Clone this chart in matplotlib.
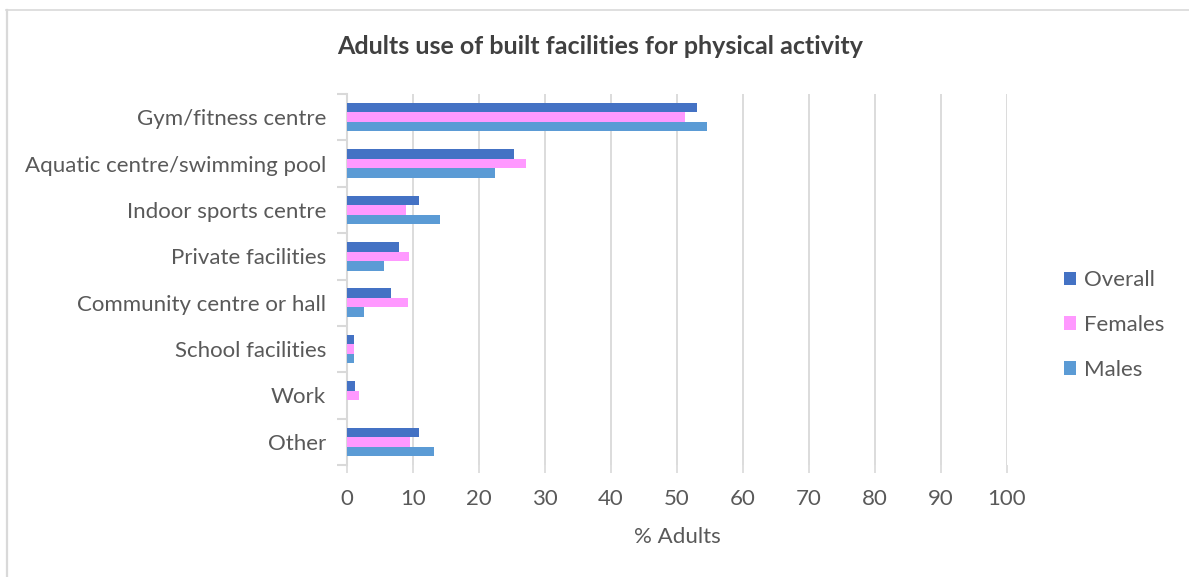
import numpy as np
import matplotlib.pyplot as plt
from matplotlib.lines import Line2D

categories = ["Gym/fitness centre", "Aquatic centre/swimming pool", "Indoor sports centre",
              "Private facilities", "Community centre or hall", "School facilities", "Work", "Other"]
overall = [53.0, 25.3, 10.9, 7.9, 6.7, 1.1, 1.2, 10.9]
females = [51.2, 27.1, 8.9, 9.4, 9.2, 1.1, 1.8, 9.5]
males = [54.5, 22.4, 14.1, 5.6, 2.6, 1.1, 0.0, 13.2]
series_names = ["Overall", "Females", "Males"]
colors = ["#4472C4", "#FF99FF", "#5B9BD5"]

plt.rcParams['font.family'] = ['Lato', 'DejaVu Sans']
text_col = "#595959"
grid_col = "#D9D9D9"

fig = plt.figure(figsize=(11.89, 5.77), dpi=100)
ax = fig.add_axes([347 / 1189, 1 - 465 / 577, 660 / 1189, 371 / 577])

# outer chart border (top and left visible)
fig.add_artist(Line2D([6 / 1189, 1], [1 - 9.5 / 577] * 2, color=grid_col, lw=1.2, transform=fig.transFigure))
fig.add_artist(Line2D([6.5 / 1189] * 2, [0, 1 - 9.5 / 577], color=grid_col, lw=1.6, transform=fig.transFigure))

y = np.arange(len(categories))
h = 0.205
for i, (vals, name, c) in enumerate(zip([overall, females, males], series_names, colors)):
    ax.barh(y + (i - 1) * h, vals, height=h, color=c, label=name, zorder=3)

ax.set_xlim(0, 100)
ax.set_ylim(len(categories) - 0.5, -0.5)
ax.set_xticks(range(0, 101, 10))
ax.set_yticks(y)
ax.set_yticklabels(categories)
ax.set_yticks(np.arange(-0.5, len(categories), 1), minor=True)
ax.tick_params(axis='y', which='major', length=0, pad=15, labelsize=16, labelcolor=text_col)
ax.tick_params(axis='y', which='minor', length=7, color=grid_col, width=1.5)
ax.tick_params(axis='x', length=6, color=grid_col, width=1.2, pad=11, labelsize=16, labelcolor=text_col)
ax.xaxis.grid(True, color=grid_col, lw=1.3, zorder=0)
for s in ['top', 'right', 'bottom']:
    ax.spines[s].set_visible(False)
ax.spines['left'].set_color(grid_col)
ax.spines['left'].set_linewidth(1.5)

ax.set_xlabel("% Adults", fontsize=16, color=text_col, labelpad=13)
fig.text(600 / 1189, 1 - 46 / 577, "Adults use of built facilities for physical activity",
         ha='center', va='center', fontsize=18, fontweight='bold', color="#404040")

fig.legend(loc='center left', bbox_to_anchor=(1044 / 1189, 1 - 325 / 577), frameon=False,
           fontsize=16, labelcolor=text_col, handlelength=0.55, handleheight=0.55,
           handletextpad=0.35, labelspacing=1.12)

plt.savefig("out.png", dpi=100)
